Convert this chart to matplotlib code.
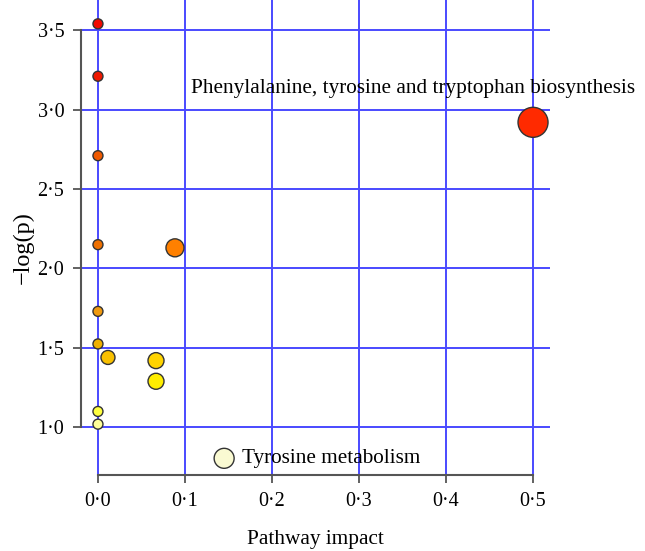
import matplotlib
matplotlib.use('Agg')
import matplotlib.pyplot as plt

plt.rcParams['font.family'] = ['Liberation Serif', 'DejaVu Serif']

# pathway analysis results
impact = [0, 0, 0.5, 0, 0, 0.0885, 0, 0, 0.0115, 0.0667, 0.0667, 0, 0, 0.145]
logp = [3.54, 3.21, 2.92, 2.71, 2.15, 2.13, 1.73, 1.525, 1.44, 1.42, 1.29, 1.10, 1.02, 0.805]
radius_px = [5, 5, 15, 5, 5, 9, 5, 5, 7, 8, 8, 5, 5, 10]
colors = ['#f20a00', '#f01800', '#ff2a00', '#f05a00', '#ee7000', '#ff8000',
          '#f09a10', '#f0b000', '#f8c000', '#ffd400', '#ffee00', '#ffff40',
          '#ffff99', '#fafad2']

labels = ['Phenylalanine, tyrosine and tryptophan biosynthesis', 'Tyrosine metabolism']
label_xy = [(0.107, 3.135), (0.1655, 0.805)]

xticks = [0, 0.1, 0.2, 0.3, 0.4, 0.5]
xticklabels = ['0·0', '0·1', '0·2', '0·3', '0·4', '0·5']
yticks = [1.0, 1.5, 2.0, 2.5, 3.0, 3.5]
yticklabels = ['1·0', '1·5', '2·0', '2·5', '3·0', '3·5']

fig = plt.figure(figsize=(6.45, 5.51), dpi=100)
ax = fig.add_axes([81/645, (551-475)/551, 469/645, 475/551])

ax.set_xlim(-0.0195, 0.5195)
ax.set_ylim(0.70, 3.69)

for v in xticks:
    ax.axvline(v, color='#4a4aff', lw=1.4, zorder=1)
for v in yticks:
    ax.axhline(v, color='#4a4aff', lw=1.4, zorder=1)

sizes = [(2 * r * 0.72) ** 2 for r in radius_px]
ax.scatter(impact, logp, s=sizes, c=colors, edgecolors='#333333', linewidths=1.0, zorder=3)

ax.text(label_xy[0][0], label_xy[0][1], labels[0], fontsize=15.3, va='center', ha='left', zorder=4)
ax.text(label_xy[1][0], label_xy[1][1], labels[1], fontsize=15.3, va='center', ha='left', zorder=4)

ax.set_xticks(xticks)
ax.set_xticklabels(xticklabels)
ax.set_yticks(yticks)
ax.set_yticklabels(yticklabels)
ax.tick_params(direction='out', length=6, width=1.3, color='#555555', labelsize=14.5, pad=6)

for s in ['top', 'right']:
    ax.spines[s].set_visible(False)
ax.spines['left'].set_bounds(1.0, 3.5)
ax.spines['bottom'].set_bounds(0, 0.5)
for s in ['left', 'bottom']:
    ax.spines[s].set_color('#555555')
    ax.spines[s].set_linewidth(1.5)

ax.set_xlabel('Pathway impact', fontsize=15.3, labelpad=14)
ax.set_ylabel('−log(p)', fontsize=17.5)
ax.yaxis.set_label_coords(-0.10, 0.479)

fig.savefig('out.png', dpi=100)
